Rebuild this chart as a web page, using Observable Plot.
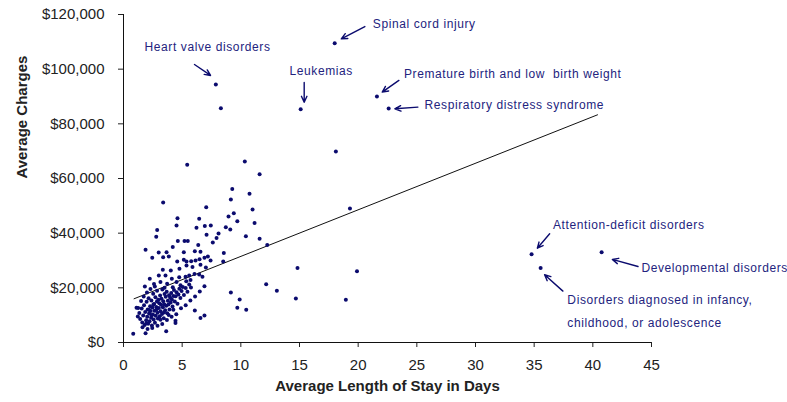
<!DOCTYPE html>
<html><head><meta charset="utf-8">
<script src="https://cdn.jsdelivr.net/npm/d3@7"></script>
<script src="https://cdn.jsdelivr.net/npm/@observablehq/plot@0.6"></script>
<style>body{margin:0;background:#fff;}</style>
</head><body><div id="chart"></div>
<script>
// Average length of stay (days) and average charges ($) per condition
const stayDays = [
  7.87, 8.3, 18.0, 15.1, 21.6, 22.6, 18.1, 5.43, 10.34, 11.6,
  9.27, 10.74, 19.3, 19.9, 18.95, 14.83, 14.69, 13.07, 12.16, 11.6,
  12.25, 11.17, 11.0, 10.43, 9.15, 9.4, 8.95, 9.7, 8.72, 9.1,
  10.46, 9.7, 9.9, 9.15, 8.55, 8.5, 6.08, 6.56, 6.9, 3.38,
  2.87, 1.88, 0.83, 1.88, 3.64, 4.43, 34.78, 35.55, 40.75,
  7.05, 4.6, 6.45, 4.52, 6.22, 6.93, 7.44, 7.08, 2.79, 8.1,
  7.93, 7.61, 4.63, 5.2, 5.48, 6.37, 4.2, 3.67, 3.0, 2.45,
  3.38, 5.14, 6.08, 6.56, 7.19, 3.86, 4.58, 5.14, 5.37, 5.77,
  6.14, 6.48, 6.9, 7.42, 5.37, 5.88, 6.56, 7.02, 4.77, 4.03,
  3.35, 2.24, 3.01, 3.58, 4.12, 4.75, 5.29, 5.6, 6.05, 6.45,
  6.73, 3.15, 3.72, 4.52, 5.35, 5.71, 1.82, 2.67, 3.5, 4.2,
  4.86, 1.11, 1.22,
  1.35, 1.42, 1.55, 1.6, 1.68, 1.75, 1.8, 1.85, 1.93, 1.97,
  2.02, 2.06, 2.1, 2.14, 2.18, 2.22, 2.27, 2.31, 2.35, 2.38,
  2.42, 2.46, 2.5, 2.53, 2.57, 2.61, 2.64, 2.68, 2.72, 2.75,
  2.79, 2.83, 2.86, 2.9, 2.93, 2.97, 3.01, 3.05, 3.09, 3.12,
  3.16, 3.2, 3.24, 3.28, 3.31, 3.35, 3.39, 3.43, 3.47, 3.5,
  3.55, 3.6, 3.64, 3.68, 3.73, 3.78, 3.83, 3.88, 3.92, 3.97,
  4.02, 4.07, 4.12, 4.18, 4.24, 4.3, 4.37, 4.44, 4.52, 4.6,
  4.68, 4.76, 4.85, 4.95, 5.05, 5.15, 5.3, 5.45, 5.6, 5.75,
  1.5, 1.72, 2.0, 2.3, 2.6, 1.25, 1.62, 2.05, 2.45, 2.9,
  3.3, 3.7, 4.1, 4.5, 4.9, 5.3, 5.7, 6.1, 6.5, 6.9,
  3.15, 4.43, 2.2, 2.55, 2.85, 3.45, 3.85, 4.25, 1.95, 2.4
];
const avgCharges = [
  94400, 85700, 109500, 85300, 90000, 85600, 69900, 65000, 66200, 61600,
  56200, 54400, 49000, 26100, 15600, 27300, 16100, 18900, 21300, 38000,
  35700, 43700, 48700, 38900, 52300, 47300, 46100, 44400, 42200, 41300,
  12000, 12700, 15700, 18300, 32700, 29600, 11700, 9000, 9900, 51200,
  41200, 33900, 3200, 3400, 4100, 7100, 32300, 27300, 33000,
  49500, 45500, 45300, 42800, 42000, 42600, 42800, 39400, 38700, 39900,
  38200, 36600, 37100, 37100, 37100, 35700, 34900, 33000, 32900, 31000,
  31200, 33000, 33400, 33200, 31500, 31500, 29600, 30300, 29600, 29700,
  30000, 30500, 31000, 30000, 28200, 27600, 28400, 27400, 27000, 26300,
  26600, 23300, 24500, 24500, 23300, 23900, 24100, 24500, 25100, 24900,
  24100, 22100, 21500, 22100, 22400, 22900, 20500, 20500, 20000, 20200,
  20900, 12700, 9500,
  10800, 8600, 12400, 7300, 9900, 13600, 6400, 11200, 8100, 14900,
  9400, 12100, 6900, 16200, 10600, 7800, 13300, 11500, 9100, 15400,
  6200, 12800, 10200, 17800, 8400, 14100, 11600, 7200, 16600, 9800,
  13000, 12200, 18900, 10900, 8800, 15600, 12600, 14400, 9600, 17200,
  11400, 13800, 16000, 10400, 19400, 12900, 15100, 8900, 14000, 17700,
  11800, 16700, 13400, 18600, 10700, 15300, 13900, 17300, 12100, 16400,
  14600, 18100, 15700, 13200, 17000, 19200, 15000, 16900, 18400, 14200,
  17600, 19700, 16300, 18800, 20300, 17400, 19900, 18600, 21200, 20100,
  15200, 16800, 18300, 19600, 21400, 12600, 5600, 4900, 5300, 6100,
  6800, 8200, 9400, 10300, 12500, 13600, 15400, 16800, 18700, 20600,
  8300, 8000, 11900, 13900, 15000, 11000, 10100, 12000, 7000, 10000
];

// Linear trend line endpoints
const trendStay = [0.9, 40.4];
const trendCharges = [16000, 83300];

// Axis ticks
const xTicks = [0, 5, 10, 15, 20, 25, 30, 35, 40, 45];
const yTicks = [0, 20000, 40000, 60000, 80000, 100000, 120000];

// Annotations (in data coordinates)
const annoText = [
  "Heart valve disorders", "Leukemias", "Spinal cord injury",
  "Premature birth and low  birth weight", "Respiratory distress syndrome",
  "Attention-deficit disorders", "Developmental disorders",
  "Disorders diagnosed in infancy,", "childhood, or adolescence"
];
const annoStay = [1.79, 14.15, 21.25, 23.9, 25.66, 36.6, 44.14, 37.83, 37.83];
const annoCharge = [107900, 99300, 116400, 98100, 87000, 42800, 27300, 15600, 7100];

const arrowStayFrom = [6.05, 15.4, 20.57, 23.47, 25.09, 36.32, 43.85, 37.45];
const arrowChargeFrom = [101700, 95100, 115600, 95900, 86100, 39800, 27800, 18800];
const arrowStayTo = [7.42, 15.4, 18.56, 22.05, 23.13, 35.27, 41.66, 35.89];
const arrowChargeTo = [97700, 87900, 111100, 91600, 85500, 34500, 30400, 24800];

const points = stayDays.map((s, i) => ({stay: s, charges: avgCharges[i]}));
const trend = trendStay.map((s, i) => ({stay: s, charges: trendCharges[i]}));
const annos = annoText.map((t, i) => ({text: t, stay: annoStay[i], charges: annoCharge[i]}));
const arrows = arrowStayFrom.map((s, i) => ({x1: s, y1: arrowChargeFrom[i], x2: arrowStayTo[i], y2: arrowChargeTo[i]}));

const navy = "#0b0b6e";
const annoColor = "#23237e";

const chart = Plot.plot({
  width: 787, height: 402,
  marginLeft: 123, marginRight: 136, marginTop: 14, marginBottom: 60,
  style: {fontFamily: "'Liberation Sans', Arial, sans-serif", background: "#fff", overflow: "visible"},
  x: {domain: [0, 45], axis: null},
  y: {domain: [0, 120000], axis: null},
  marks: [
    Plot.axisX(xTicks, {tickSize: 5, tickPadding: 12, fontSize: 15, color: "#222", tickFormat: d => d, label: null}),
    Plot.axisY(yTicks, {tickSize: 5, tickPadding: 14, fontSize: 15, color: "#222", tickFormat: d3.format("$,"), label: null}),
    Plot.ruleX([0], {stroke: "#111"}),
    Plot.ruleY([0], {stroke: "#111"}),
    Plot.line(trend, {x: "stay", y: "charges", stroke: "#111", strokeWidth: 1}),
    Plot.dot(points, {x: "stay", y: "charges", r: 2, fill: navy, stroke: null}),
    Plot.arrow(arrows, {x1: "x1", y1: "y1", x2: "x2", y2: "y2", stroke: navy, strokeWidth: 1.4, headLength: 7, headAngle: 50}),
    Plot.text(annos, {x: "stay", y: "charges", text: "text", textAnchor: "start", fontSize: 12, fill: annoColor, style: "letter-spacing:0.6px"}),
    Plot.text(["Average Charges"], {frameAnchor: "left", dx: -101, rotate: -90, fontWeight: "bold", fontSize: 15, fill: "#222"}),
    Plot.text(["Average Length of Stay in Days"], {frameAnchor: "bottom", dy: 48, fontWeight: "bold", fontSize: 15, fill: "#222"})
  ]
});
chart.querySelectorAll("text").forEach(t => {
  const s = t.textContent;
  if (annoText.includes(s)) t.setAttribute("letter-spacing", "0.6");
});
document.getElementById("chart").appendChild(chart);
</script>
</body></html>
